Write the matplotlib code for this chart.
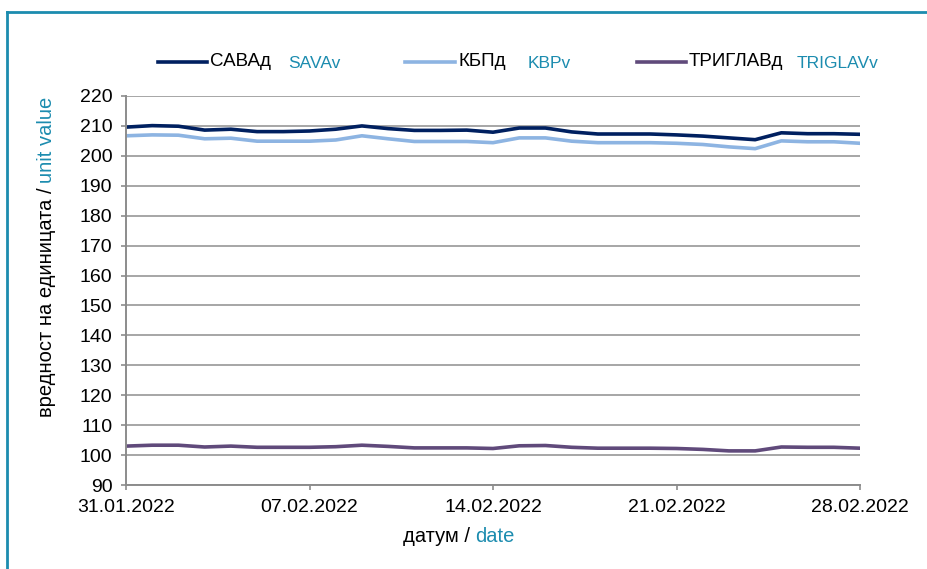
import matplotlib
matplotlib.use("Agg")
import matplotlib.pyplot as plt
import matplotlib.dates as mdates
from matplotlib.lines import Line2D
import pandas as pd

plt.rcParams['font.family'] = ['Liberation Sans', 'DejaVu Sans']

dates = pd.date_range("2022-01-31", "2022-02-28", freq="D")
sava = [209.6, 210.1, 209.9, 208.6, 208.9, 208.1, 208.1, 208.3, 208.9, 210.0,
        209.1, 208.5, 208.5, 208.6, 207.9, 209.3, 209.3, 208.0, 207.3, 207.3,
        207.3, 207.0, 206.6, 206.0, 205.4, 207.7, 207.4, 207.4, 207.2]
kbp = [206.7, 207.0, 206.9, 205.7, 205.9, 204.9, 204.9, 204.9, 205.3, 206.7,
       205.7, 204.8, 204.8, 204.8, 204.4, 206.0, 206.0, 204.9, 204.4, 204.4,
       204.4, 204.2, 203.8, 203.0, 202.4, 205.0, 204.7, 204.7, 204.2]
triglav = [103.0, 103.3, 103.3, 102.7, 103.0, 102.6, 102.6, 102.6, 102.8, 103.3,
           102.9, 102.4, 102.4, 102.4, 102.2, 103.1, 103.2, 102.6, 102.3, 102.3,
           102.3, 102.2, 101.9, 101.4, 101.4, 102.7, 102.6, 102.6, 102.3]
yticks = list(range(90, 221, 10))
xtick_dates = pd.to_datetime(["2022-01-31", "2022-02-07", "2022-02-14", "2022-02-21", "2022-02-28"])

names_mk = ["САВАд", "КБПд", "ТРИГЛАВд"]
names_en = ["SAVAv", "KBPv", "TRIGLAVv"]
colors = ["#002060", "#8DB4E2", "#604A7B"]
teal = "#1C8CAF"
W, H = 927, 569

fig = plt.figure(figsize=(W / 100, H / 100), dpi=100)
ax = fig.add_axes([126 / W, (H - 485) / H, 734 / W, 389 / H])

for vals, c in zip([sava, kbp, triglav], colors):
    ax.plot(dates, vals, color=c, lw=2.6, solid_joinstyle='round')

ax.set_ylim(90, 220)
ax.set_xlim(dates[0], dates[-1])
ax.set_yticks(yticks)
ax.set_xticks(xtick_dates)
ax.xaxis.set_major_formatter(mdates.DateFormatter("%d.%m.%Y"))
ax.grid(axis='y', color='#A6A6A6', lw=1.4)
ax.set_axisbelow(True)
for s in ['top', 'right']:
    ax.spines[s].set_visible(False)
for s in ['left', 'bottom']:
    ax.spines[s].set_color('#8C8C8C')
    ax.spines[s].set_linewidth(1.4)
ax.tick_params(axis='both', colors='#8C8C8C', length=3.8, width=1.2, labelsize=14,
               labelcolor='black')
ax.tick_params(axis='y', pad=6)
ax.tick_params(axis='x', pad=6)

# legend
leg_items = [(158, 207, 210, 288), (405, 455, 458, 528), (637, 686, 689, 797)]
ly = H - 62
for (x0, x1, tx, tx2), c, nm, ne in zip(leg_items, colors, names_mk, names_en):
    fig.add_artist(Line2D([x0 / W, x1 / W], [ly / H, ly / H], color=c, lw=2.6,
                          transform=fig.transFigure))
    fig.text(tx / W, ly / H, nm, fontsize=13.5, va='center', ha='left', color='black')
    fig.text(tx2 / W, (ly - 2) / H, ne, fontsize=12.5, va='center', ha='left', color=teal)

fig.canvas.draw()
r = fig.canvas.get_renderer()

# y label (centered at y=257 px from top)
lab_fs = 14.5
t1 = fig.text(47 / W, 0.5, "вредност на единицата /", rotation=90,
              fontsize=lab_fs, ha='center', va='bottom', color='black')
t1b = fig.text(47 / W, 0.5, "unit value", rotation=90, fontsize=lab_fs,
               ha='center', va='bottom', color=teal)
h1 = t1.get_window_extent(r).height
h2 = t1b.get_window_extent(r).height
gap = 5
total = h1 + gap + h2
y0 = (H - 257) - total / 2
t1.set_y(y0 / H)
t1b.set_y((y0 + h1 + gap) / H)

# x label (centered at x=459 px)
t2 = fig.text(0, (H - 537) / H, "датум /", fontsize=lab_fs, ha='left',
              va='center', color='black')
t2b = fig.text(0, (H - 537) / H, "date", fontsize=lab_fs, ha='left',
               va='center', color=teal)
w1 = t2.get_window_extent(r).width
w2 = t2b.get_window_extent(r).width
x0 = 459 - (w1 + gap + w2) / 2
t2.set_x(x0 / W)
t2b.set_x((x0 + w1 + gap) / W)

# frame
fy = 1 - 12 / H
fx = 7 / W
fig.add_artist(Line2D([fx, fx], [0, fy], color=teal, lw=2, transform=fig.transFigure))
fig.add_artist(Line2D([fx, 1], [fy, fy], color=teal, lw=2, transform=fig.transFigure))

fig.savefig("out.png", dpi=100)
